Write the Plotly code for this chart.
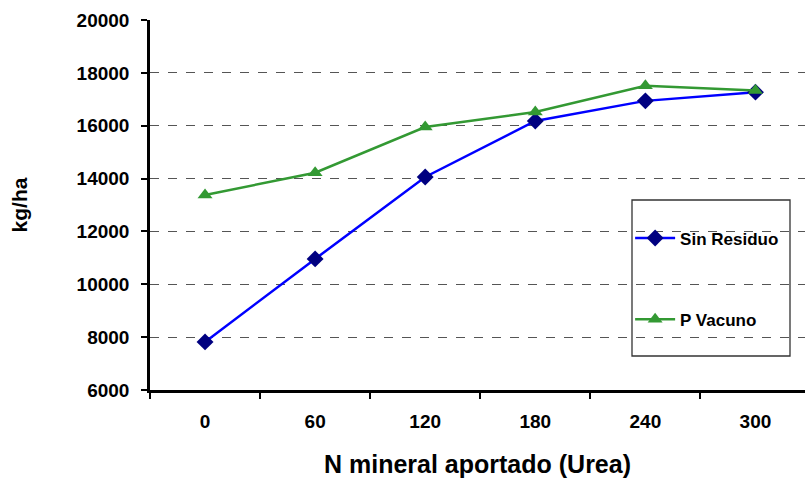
import plotly.graph_objects as go

categories = ["0", "60", "120", "180", "240", "300"]
sin_residuo = [7820, 10960, 14060, 16180, 16940, 17270]
p_vacuno = [13380, 14220, 15950, 16520, 17510, 17330]
y_ticks = [6000, 8000, 10000, 12000, 14000, 16000, 18000, 20000]
y_ticktext = ["6000", "8000", "10000", "12000", "14000", "16000", "18000", "20000"]

FONT = "Liberation Sans, Arial, sans-serif"

fig = go.Figure()
fig.add_trace(go.Scatter(
    x=categories, y=sin_residuo, name="Sin Residuo", mode="lines+markers",
    line=dict(color="#0000FF", width=2.5),
    marker=dict(symbol="diamond", size=13, color="#000080"),
    legendgroup="a",
))
fig.add_trace(go.Scatter(
    x=categories, y=p_vacuno, name="P Vacuno", mode="lines+markers",
    line=dict(color="#339933", width=2.5),
    marker=dict(symbol="triangle-up", size=13, color="#339933"),
    legendgroup="b",
))

fig.update_layout(
    width=805, height=480,
    margin=dict(l=150, r=0, t=20, b=90),
    paper_bgcolor="white", plot_bgcolor="white",
    font=dict(family=FONT, color="black"),
    showlegend=True,
    legend=dict(
        x=0.733, y=(390 - 279) / 370, xanchor="left", yanchor="middle",
        font=dict(family=FONT, size=17, weight="bold", color="black"),
        bgcolor="rgba(0,0,0,0)", borderwidth=0, itemwidth=40,
        tracegroupgap=56, traceorder="grouped",
    ),
    shapes=[dict(
        type="rect", xref="paper", yref="paper",
        x0=(632 - 150) / 655, x1=(790 - 150) / 655,
        y0=(390 - 356) / 370, y1=(390 - 200) / 370,
        line=dict(color="#333333", width=1.3), fillcolor="white", layer="below",
    )],
)

fig.update_xaxes(
    type="category", range=[-0.5, 5.45],
    tickson="boundaries", ticks="outside", ticklen=6, tickwidth=2, tickcolor="black",
    showline=True, linecolor="black", linewidth=2.5,
    showgrid=False, zeroline=False, ticklabelstandoff=12,
    tickfont=dict(family=FONT, size=19, weight="bold", color="black"),
    title=dict(text="N mineral aportado (Urea)", standoff=25,
               font=dict(family=FONT, size=25, weight="bold", color="black")),
)
fig.update_yaxes(
    range=[6000, 20000], tickvals=y_ticks, ticktext=y_ticktext,
    ticks="outside", ticklen=6, tickwidth=2, tickcolor="black",
    showline=True, linecolor="black", linewidth=2.5,
    showgrid=True, gridcolor="#555555", gridwidth=1, griddash="dash",
    zeroline=False, ticklabelstandoff=8,
    tickfont=dict(family=FONT, size=19, weight="bold", color="black"),
    title=dict(text="kg/ha", standoff=44,
               font=dict(family=FONT, size=21, weight="bold", color="black")),
)

fig.write_html("out.html")
